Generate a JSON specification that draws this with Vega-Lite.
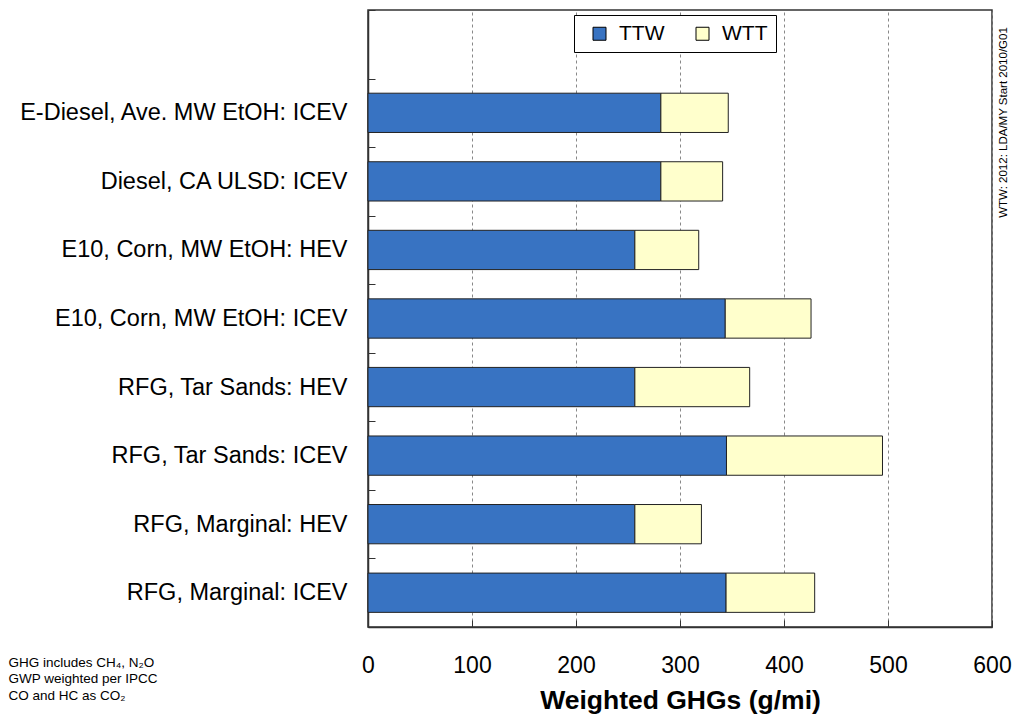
{
  "$schema": "https://vega.github.io/schema/vega-lite/v6.json",
  "autosize": "none",
  "width": 624,
  "height": 617,
  "padding": {"left": 368, "top": 10, "right": 24, "bottom": 90},
  "background": "white",
  "config": {
    "font": "Liberation Sans",
    "view": {"stroke": "#333333", "strokeWidth": 1.5}
  },
  "data": {
    "values": [
      {"vehicle": "E-Diesel, Ave. MW EtOH: ICEV", "stage": "TTW", "ghg": 281.6},
      {"vehicle": "E-Diesel, Ave. MW EtOH: ICEV", "stage": "WTT", "ghg": 64.8},
      {"vehicle": "Diesel, CA ULSD: ICEV", "stage": "TTW", "ghg": 281.6},
      {"vehicle": "Diesel, CA ULSD: ICEV", "stage": "WTT", "ghg": 59.4},
      {"vehicle": "E10, Corn, MW EtOH: HEV", "stage": "TTW", "ghg": 256.6},
      {"vehicle": "E10, Corn, MW EtOH: HEV", "stage": "WTT", "ghg": 61.4},
      {"vehicle": "E10, Corn, MW EtOH: ICEV", "stage": "TTW", "ghg": 343.5},
      {"vehicle": "E10, Corn, MW EtOH: ICEV", "stage": "WTT", "ghg": 82.5},
      {"vehicle": "RFG, Tar Sands: HEV", "stage": "TTW", "ghg": 256.6},
      {"vehicle": "RFG, Tar Sands: HEV", "stage": "WTT", "ghg": 110.4},
      {"vehicle": "RFG, Tar Sands: ICEV", "stage": "TTW", "ghg": 344.7},
      {"vehicle": "RFG, Tar Sands: ICEV", "stage": "WTT", "ghg": 150.0},
      {"vehicle": "RFG, Marginal: HEV", "stage": "TTW", "ghg": 256.6},
      {"vehicle": "RFG, Marginal: HEV", "stage": "WTT", "ghg": 64.0},
      {"vehicle": "RFG, Marginal: ICEV", "stage": "TTW", "ghg": 344.3},
      {"vehicle": "RFG, Marginal: ICEV", "stage": "WTT", "ghg": 85.2}
    ]
  },
  "resolve": {"axis": {"y": "independent"}},
  "layer": [
    {
      "mark": {"type": "bar", "height": {"band": 0.573}, "stroke": "#222222", "strokeWidth": 1},
      "encoding": {
        "y": {
          "field": "vehicle",
          "type": "nominal",
          "scale": {
            "domain": [" ", "E-Diesel, Ave. MW EtOH: ICEV", "Diesel, CA ULSD: ICEV", "E10, Corn, MW EtOH: HEV", "E10, Corn, MW EtOH: ICEV", "RFG, Tar Sands: HEV", "RFG, Tar Sands: ICEV", "RFG, Marginal: HEV", "RFG, Marginal: ICEV"],
            "paddingInner": 0,
            "paddingOuter": 0
          },
          "axis": {
            "orient": "left",
            "title": ["GHG includes CH₄, N₂O", "GWP weighted per IPCC", "CO and HC as CO₂"],
            "titleAngle": 0,
            "titleX": -360,
            "titleY": 652,
            "titleAlign": "left",
            "titleBaseline": "middle",
            "titleFontSize": 13.5,
            "titleFontWeight": "normal",
            "titleLineHeight": 16.5,
            "titleColor": "#000000",
            "labelFontSize": 23.5,
            "labelColor": "#000000",
            "labelPadding": 28,
            "labelLimit": 400,
            "tickBand": "extent",
            "tickSize": -7,
            "tickColor": "#333333",
            "domainColor": "#333333",
            "domainWidth": 1.5,
            "grid": false
          }
        },
        "x": {
          "field": "ghg",
          "type": "quantitative",
          "stack": "zero",
          "scale": {"domain": [0, 600], "nice": false},
          "axis": {
            "values": [0, 100, 200, 300, 400, 500, 600],
            "title": "Weighted GHGs (g/mi)",
            "titleFontSize": 26.5,
            "titleFontWeight": "bold",
            "titleColor": "#000000",
            "titleX": 312,
            "titleY": 81,
            "titleAlign": "center",
            "titleBaseline": "alphabetic",
            "labelFontSize": 23,
            "labelColor": "#000000",
            "labelPadding": 34,
            "labelFlush": false,
            "labelOverlap": false,
            "tickSize": -7,
            "tickColor": "#333333",
            "domainColor": "#333333",
            "domainWidth": 1.5,
            "grid": true,
            "gridColor": "#888888",
            "gridDash": [3, 3],
            "gridWidth": 1
          }
        },
        "color": {
          "field": "stage",
          "type": "nominal",
          "scale": {"domain": ["TTW", "WTT"], "range": ["#3873c2", "#ffffcc"]},
          "legend": {
            "orient": "none",
            "legendX": 206,
            "legendY": 5,
            "direction": "horizontal",
            "title": null,
            "strokeColor": "#000000",
            "fillColor": "#ffffff",
            "padding": 8,
            "symbolType": "square",
            "symbolSize": 169,
            "symbolStrokeColor": "#000000",
            "symbolStrokeWidth": 1,
            "symbolOpacity": 1,
            "symbolOffset": 7,
            "labelFontSize": 21,
            "labelColor": "#000000",
            "labelOffset": 9,
            "columnPadding": 20
          }
        },
        "order": {"field": "stage", "sort": "ascending"}
      }
    },
    {
      "mark": {"type": "bar", "height": {"band": 0.573}, "opacity": 0},
      "encoding": {
        "y": {
          "field": "vehicle",
          "type": "nominal",
          "axis": {
            "orient": "right",
            "title": "WTW: 2012: LDA/MY Start 2010/G01",
            "titleAngle": 270,
            "titleX": 11,
            "titleY": 112,
            "titleAlign": "center",
            "titleBaseline": "middle",
            "titleFontSize": 11.5,
            "titleFontWeight": "normal",
            "titleColor": "#000000",
            "labels": false,
            "ticks": false,
            "domain": false,
            "grid": false
          }
        },
        "x": {"field": "ghg", "type": "quantitative", "stack": "zero"}
      }
    }
  ]
}
